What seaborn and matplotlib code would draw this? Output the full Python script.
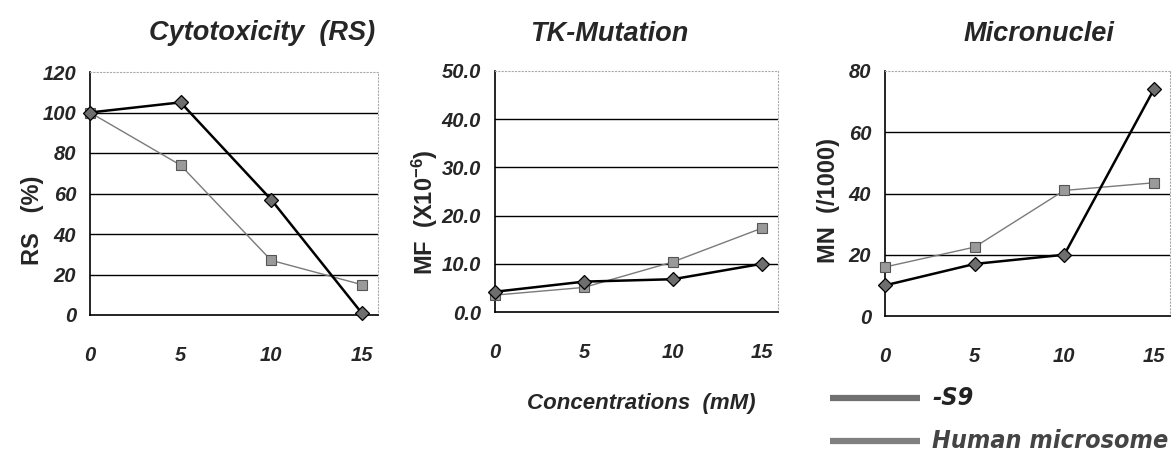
import matplotlib
matplotlib.use("Agg")
import matplotlib.pyplot as plt
from matplotlib.lines import Line2D
import seaborn as sns
import pandas as pd

# ---- data ----
conc = [0, 5, 10, 15]
rs_s9 = [100, 105, 57, 1]
rs_hm = [100, 74, 27, 15]
mf_s9 = [4.2, 6.3, 6.8, 10.0]
mf_hm = [3.5, 5.1, 10.4, 17.4]
mn_s9 = [10, 17, 20, 74]
mn_hm = [16, 22.5, 41, 43.5]

titles = ["Cytotoxicity  (RS)", "TK-Mutation", "Micronuclei"]
ylabels = ["RS   (%)", "MF  (X10$^{-6}$)", "MN  (/1000)"]
series_names = ["-S9", "Human microsome"]
xticks = [0, 5, 10, 15]

sns.set_theme(style="white")
FONT = ["Liberation Sans", "DejaVu Sans"]
COND = ["DejaVu Sans"]
plt.rcParams["font.family"] = FONT
plt.rcParams["mathtext.default"] = "regular"

W, H = 1174, 459
fig = plt.figure(figsize=(W / 100, H / 100), dpi=100)
fig.patch.set_facecolor("white")

def box(l, r, t, b):
    return [l / W, 1 - b / H, (r - l) / W, (b - t) / H]

axes = [
    fig.add_axes(box(90, 378, 72, 315)),
    fig.add_axes(box(495, 778, 71, 312)),
    fig.add_axes(box(885, 1170, 71, 316)),
]

panels = [
    (rs_s9, rs_hm, 120, [0, 20, 40, 60, 80, 100, 120], lambda v: f"{v:d}"),
    (mf_s9, mf_hm, 50, [0, 10, 20, 30, 40, 50], lambda v: f"{v:.1f}"),
    (mn_s9, mn_hm, 80, [0, 20, 40, 60, 80], lambda v: f"{v:d}"),
]

tick_font = dict(family=FONT, weight="bold", style="italic", size=14.5)

for ax, (s9, hm, ymax, yt, fmt) in zip(axes, panels):
    ax.set_facecolor("white")
    df = pd.DataFrame({"conc": conc + conc,
                       "val": list(s9) + list(hm),
                       "series": [series_names[0]] * 4 + [series_names[1]] * 4})
    for v in yt[1:-1]:
        ax.axhline(v, color="black", lw=1.0, zorder=1)
    sns.lineplot(data=df[df.series == series_names[1]], x="conc", y="val", ax=ax,
                 color="#7a7a7a", lw=1.0, marker="s", markersize=7,
                 markerfacecolor="#9a9a9a", markeredgecolor="#555555",
                 markeredgewidth=0.8, legend=False, zorder=3, clip_on=False)
    sns.lineplot(data=df[df.series == series_names[0]], x="conc", y="val", ax=ax,
                 color="black", lw=1.8, marker="D", markersize=7.5,
                 markerfacecolor="#6e6e6e", markeredgecolor="black",
                 markeredgewidth=0.9, legend=False, zorder=4, clip_on=False)
    ax.set_xlim(0, 15.9)
    ax.set_ylim(0, ymax)
    ax.set_xticks(xticks)
    ax.set_xticklabels([str(x) for x in xticks], fontdict=tick_font)
    ax.set_yticks(yt)
    ax.set_yticklabels([fmt(v) for v in yt], fontdict=tick_font)
    ax.tick_params(axis="x", direction="in", length=7, width=1, color="black", pad=22)
    ax.tick_params(axis="y", length=0, pad=10)
    ax.set_xlabel("")
    ax.set_ylabel("")
    ax.grid(False)
    for s in ["left", "bottom"]:
        ax.spines[s].set_color("black")
        ax.spines[s].set_linewidth(1.2)
    for s in ["top", "right"]:
        ax.spines[s].set_color("#aaaaaa")
        ax.spines[s].set_linewidth(0.8)
        ax.spines[s].set_linestyle((0, (1, 2)))

title_font = dict(family=FONT, weight="bold", style="italic", size=19.5)
for (x, y), t in zip([(262, 33), (609, 34), (1039, 34)], titles):
    fig.text(x / W, 1 - y / H, t, ha="center", va="center", **title_font)

ylab_font = dict(family=FONT, weight="bold", size=17)
for (x, y), t in zip([(33, 220), (425, 212), (828, 200)], ylabels):
    fig.text(x / W, 1 - y / H, t, ha="center", va="center", rotation=90, **ylab_font)

fig.text(641 / W, 1 - 403 / H, "Concentrations  (mM)", ha="center", va="center",
         family=FONT, weight="bold", style="italic", size=16)

# legend
for yy, col, name in [(398, "#707070", series_names[0]), (441, "#808080", series_names[1])]:
    fig.add_artist(Line2D([830 / W, 920 / W], [1 - yy / H, 1 - yy / H],
                          transform=fig.transFigure, color=col, lw=4.5,
                          solid_capstyle="butt"))
    fig.text(932 / W, 1 - yy / H, name, ha="left", va="center",
             family=COND, fontstretch="condensed", weight="bold", style="italic", size=18,
             color="#222222" if name == "-S9" else "#444444")

fig.savefig("out.png", dpi=100, facecolor="white")
